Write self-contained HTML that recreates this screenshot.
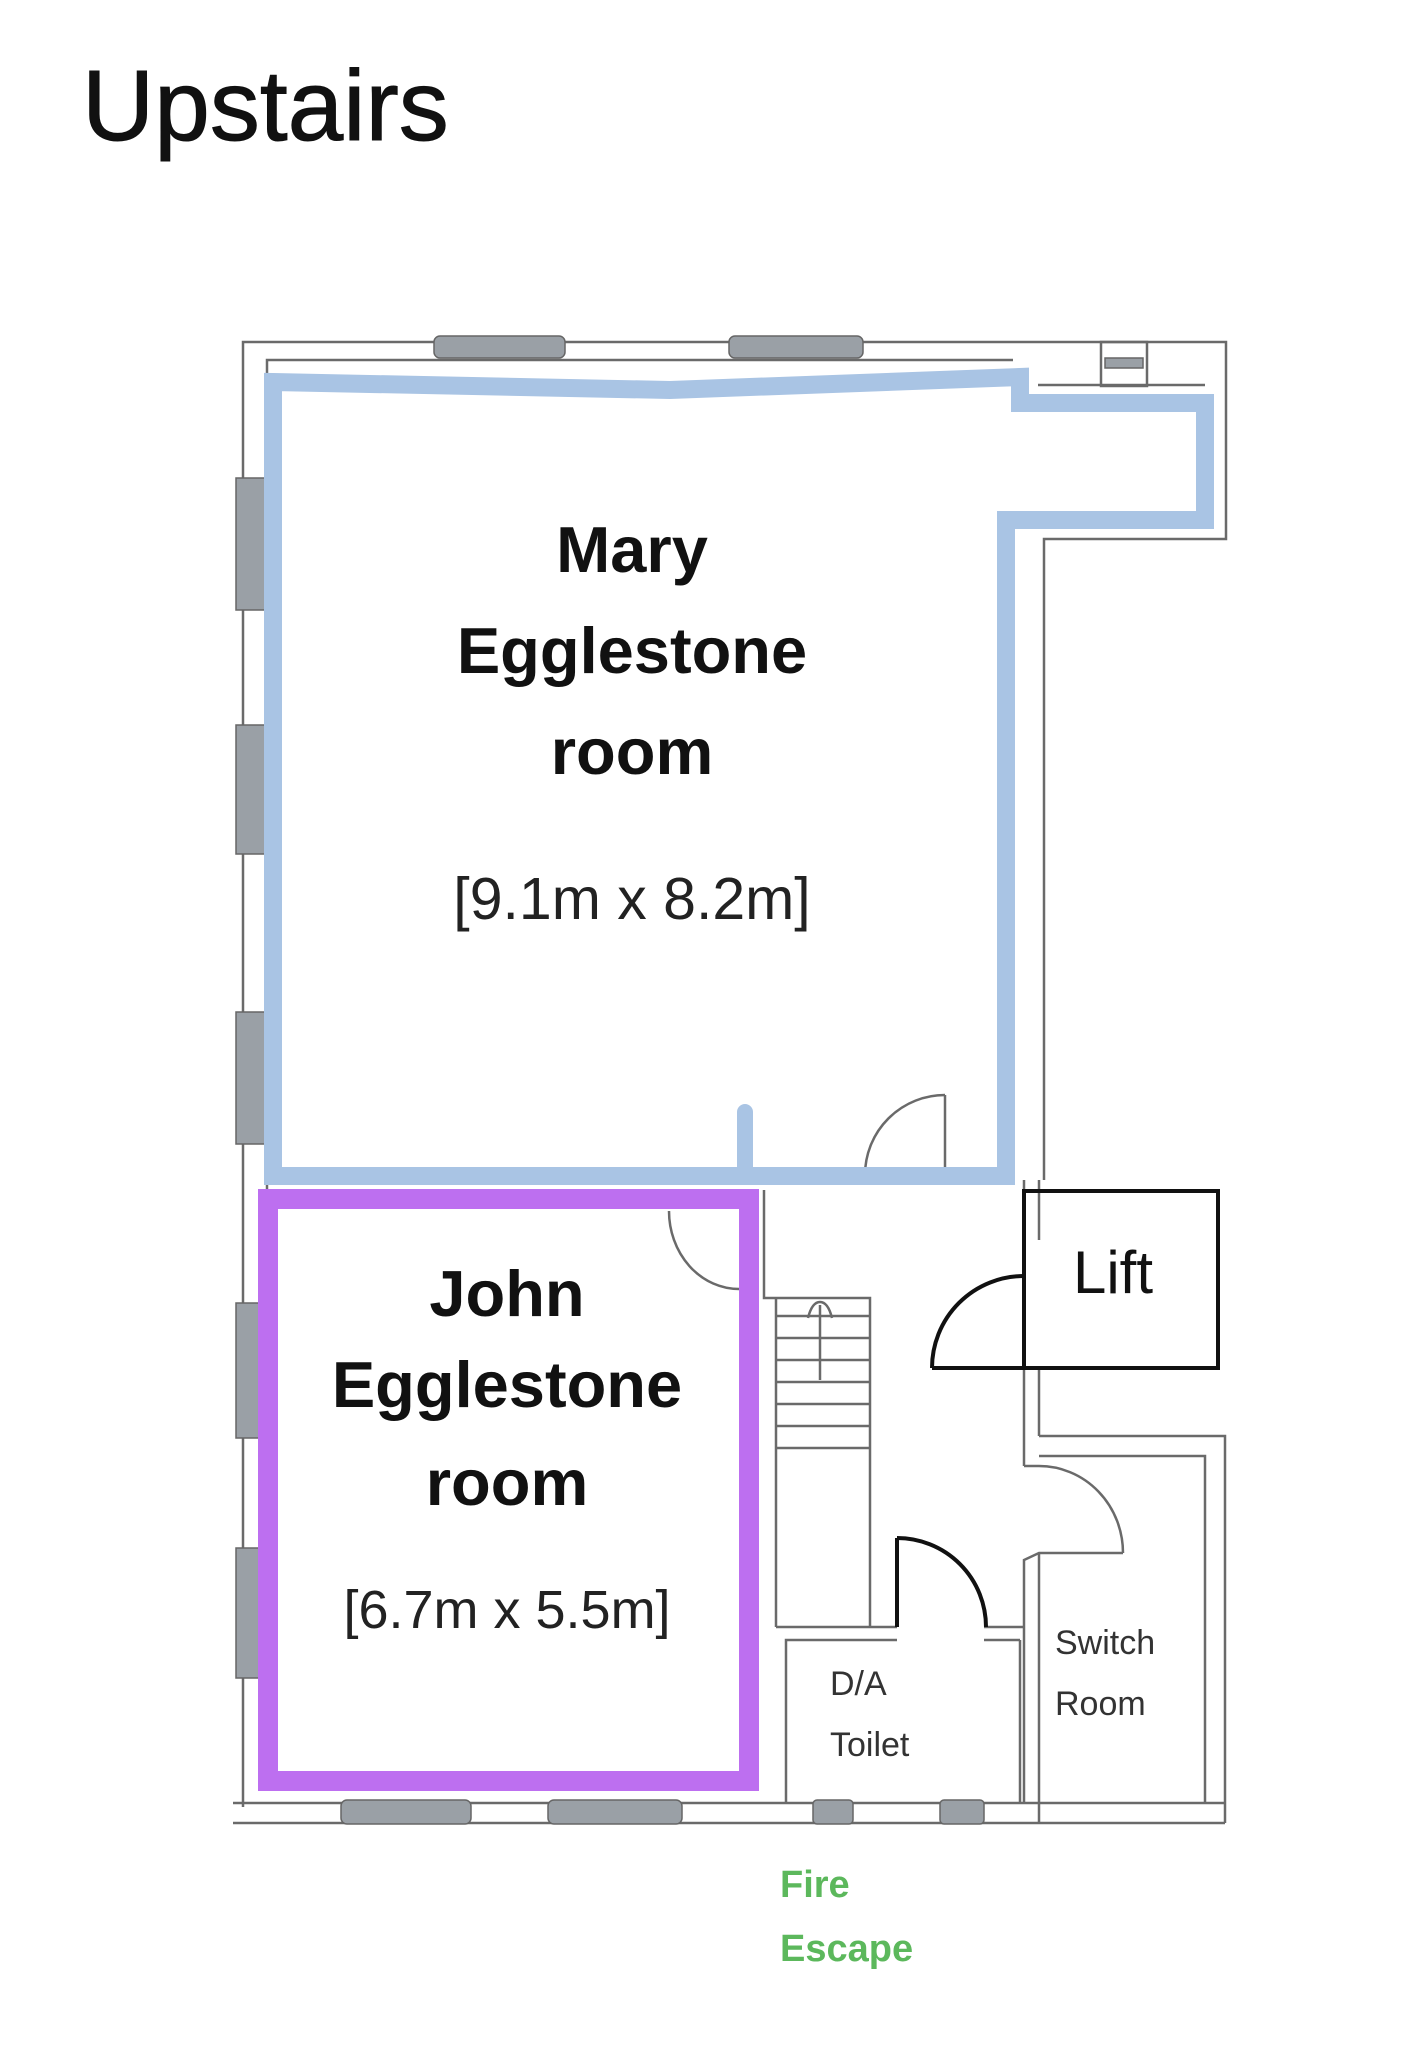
<!DOCTYPE html>
<html><head><meta charset="utf-8"><style>
html,body{margin:0;padding:0;background:#fff;}
svg{display:block;}
text{font-family:"Liberation Sans",sans-serif;}
</style></head><body>
<svg width="1404" height="2056" viewBox="0 0 1404 2056" xmlns="http://www.w3.org/2000/svg">
<rect width="1404" height="2056" fill="#fff"/>
<text x="82" y="140" font-size="100" fill="#111" stroke="#111" stroke-width="1">Upstairs</text>

<g stroke="#6a6a6a" stroke-width="2.5" fill="none">
<polyline points="243,1807 243,342 1226,342 1226,539 1044,539 1044,1180"/>
<polyline points="267,1790 267,360 1013,360"/>
<line x1="1038" y1="385" x2="1205" y2="385"/>
<rect x="1101" y="342" width="46" height="44"/>
<line x1="233" y1="1803" x2="1225" y2="1803"/>
<line x1="233" y1="1823" x2="1225" y2="1823"/>
<line x1="1024" y1="1368" x2="1024" y2="1466"/>
<line x1="1039" y1="1368" x2="1039" y2="1436"/>
<polyline points="1039,1436 1225,1436 1225,1823"/>
<polyline points="1039,1456 1205,1456 1205,1803"/>
<line x1="1024" y1="1466" x2="1039" y2="1466"/>
<path d="M1039,1466 A84,87 0 0 1 1123,1553"/>
<polyline points="1123,1553 1039,1553 1024,1560 1024,1803"/>
<line x1="1039" y1="1553" x2="1039" y2="1823"/>
<polyline points="764,1190 764,1298 870,1298 870,1627"/>
<line x1="776" y1="1298" x2="776" y2="1627"/>
<line x1="776" y1="1627" x2="897" y2="1627"/>
<line x1="984" y1="1627" x2="1024" y2="1627"/>
<line x1="776" y1="1316" x2="870" y2="1316"/>
<line x1="776" y1="1338" x2="870" y2="1338"/>
<line x1="776" y1="1360" x2="870" y2="1360"/>
<line x1="776" y1="1382" x2="870" y2="1382"/>
<line x1="776" y1="1404" x2="870" y2="1404"/>
<line x1="776" y1="1426" x2="870" y2="1426"/>
<line x1="776" y1="1448" x2="870" y2="1448"/>
<line x1="820" y1="1305" x2="820" y2="1380"/>
<path d="M808,1318 Q812,1302 820,1302 Q828,1302 832,1318"/>
<polyline points="786,1803 786,1640 897,1640"/>
<line x1="984" y1="1640" x2="1020" y2="1640"/>
<line x1="1020" y1="1640" x2="1020" y2="1803"/>
<line x1="945" y1="1095" x2="945" y2="1175"/>
<path d="M945,1095 A80,80 0 0 0 865,1175"/>
<path d="M669,1211 A70,78 0 0 0 739,1289"/>
<line x1="1024" y1="1180" x2="1024" y2="1240"/>
<line x1="1039" y1="1180" x2="1039" y2="1240"/>
</g>

<g fill="#9aa0a6" stroke="#666" stroke-width="1.5">
<rect x="434" y="336" width="131" height="22" rx="6"/>
<rect x="729" y="336" width="134" height="22" rx="6"/>
<rect x="1105" y="358" width="38" height="10"/>
<rect x="236" y="478" width="30" height="132"/>
<rect x="236" y="725" width="30" height="129"/>
<rect x="236" y="1012" width="30" height="132"/>
<rect x="236" y="1303" width="30" height="135"/>
<rect x="236" y="1548" width="30" height="130"/>
<rect x="341" y="1800" width="130" height="24" rx="6"/>
<rect x="548" y="1800" width="134" height="24" rx="6"/>
<rect x="813" y="1800" width="40" height="24" rx="4"/>
<rect x="940" y="1800" width="44" height="24" rx="4"/>
</g>

<polygon points="273,382 670,390 1020,377 1020,403 1205,403 1205,520 1006,520 1006,1176 273,1176" fill="none" stroke="#a9c4e4" stroke-width="18" stroke-linejoin="miter"/>
<line x1="745" y1="1112" x2="745" y2="1176" stroke="#a9c4e4" stroke-width="16" stroke-linecap="round"/>
<rect x="268" y="1199" width="481" height="582" fill="none" stroke="#bd6ff0" stroke-width="20"/>

<g stroke="#111" stroke-width="4" fill="none">
<rect x="1024" y="1191" width="194" height="177"/>
<line x1="932" y1="1368" x2="1024" y2="1368"/>
<path d="M1024,1276 A92,92 0 0 0 932,1368"/>
<line x1="897" y1="1627" x2="897" y2="1538"/>
<path d="M897,1538 A89,89 0 0 1 986,1627"/>
</g>

<g fill="#111" font-weight="bold" text-anchor="middle" font-size="65">
<text x="632" y="572">Mary</text>
<text x="632" y="673">Egglestone</text>
<text x="632" y="774">room</text>
<text x="507" y="1316">John</text>
<text x="507" y="1407">Egglestone</text>
<text x="507" y="1505">room</text>
</g>
<g fill="#222" text-anchor="middle" font-size="54">
<text x="632" y="919" font-size="59">[9.1m x 8.2m]</text>
<text x="507" y="1628">[6.7m x 5.5m]</text>
<text x="1113" y="1293" font-size="60" fill="#111">Lift</text>
</g>
<g fill="#333" font-size="34">
<text x="830" y="1695">D/A</text>
<text x="830" y="1756">Toilet</text>
<text x="1055" y="1654">Switch</text>
<text x="1055" y="1715">Room</text>
</g>
<g fill="#5cb85c" font-size="38" font-weight="bold">
<text x="780" y="1897">Fire</text>
<text x="780" y="1961">Escape</text>
</g>
</svg>
</body></html>
